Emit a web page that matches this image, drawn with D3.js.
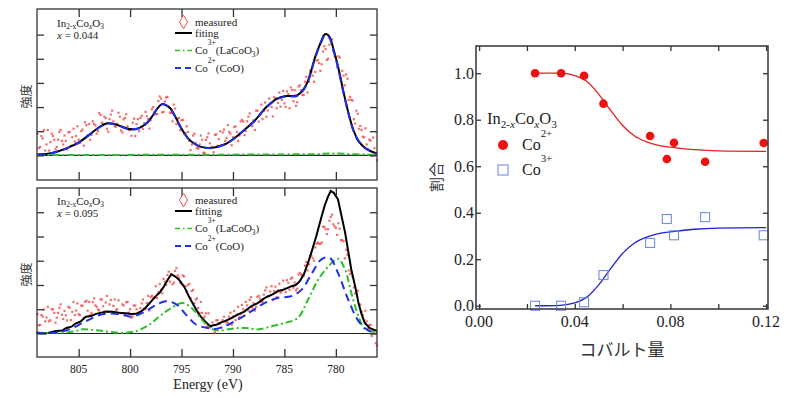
<!DOCTYPE html>
<html>
<head>
<meta charset="utf-8">
<script src="https://cdn.jsdelivr.net/npm/d3@7"></script>
</head>
<body style="margin:0;background:#fff">
<svg id="chart" width="788" height="398"></svg>
<script>
// ---- measured spectra (start energy, step, intensities) ----
var measStep = 0.25;
var measStartA = 809, measStartB = 808.875;
var measTop = [0.9,0.35,0.7,0.2,1.05,0.55,0.8,0.25,0.65,1.05,0.45,0.6,0.95,0.4,1.1,0.8,0.65,1.0,0.4,1.25,
  1.3,0.85,1.3,0.9,1.75,1.35,1.6,1.1,1.5,1.85,1.2,1.3,1.6,0.95,1.55,1.2,1.05,1.35,0.8,1.5,
  1.55,1.1,1.8,1.5,1.45,2.0,1.7,2.25,2.35,1.8,2.4,2.0,1.75,2.1,1.3,1.55,1.45,0.9,1.2,0.6,
  0.45,0.9,0.3,0.45,0.65,0.1,0.75,0.5,0.35,0.85,0.4,1.0,0.95,0.6,1.25,0.9,0.75,1.2,0.6,1.4,
  1.4,1.0,1.6,1.3,1.45,1.85,1.4,2.1,1.85,1.6,2.35,2.0,2.4,1.95,2.6,2.3,2.15,2.65,1.95,2.7,
  2.7,2.2,2.9,2.5,3.05,2.6,3.5,3.3,3.45,3.95,3.5,4.3,4.4,4.0,4.75,4.3,4.05,4.1,3.2,3.3,
  3.35,2.3,2.3,1.5,1.85,1.1,1.05,0.75,0.45,0.65,0.0,0.3,-0.2];
var measTop2 = [0.3,0.8,1.05,0.45,0.2,0.9,0.65,0.35,0.97,0.6,0.82,0.25,0.97,0.75,0.57,1.2,0.52,1.07,1.37,0.82,
  0.64,1.41,1.24,1.01,1.67,1.31,1.54,0.98,1.69,1.41,1.19,1.76,1.03,1.49,1.7,1.06,0.81,1.52,1.29,1.0,
  1.64,1.33,1.62,1.11,1.91,1.79,1.71,2.44,1.78,2.23,2.42,1.77,1.41,1.94,1.51,1.04,1.47,0.92,0.97,0.22,
  0.82,0.52,0.27,0.82,0.11,0.64,0.91,0.34,0.13,0.87,0.67,0.42,1.07,0.72,0.97,0.42,1.17,0.97,0.82,1.47,
  0.84,1.41,1.74,1.21,1.05,1.85,1.7,1.5,2.19,1.86,2.14,1.61,2.37,2.17,2.02,2.67,2.01,2.54,2.81,2.24,
  2.05,2.85,2.7,2.5,3.25,3.05,3.45,3.05,3.92,3.82,3.77,4.52,3.95,4.58,4.8,4.1,3.65,4.05,3.5,2.9,
  3.17,2.42,2.27,1.32,1.72,1.22,0.77,1.12,0.24,0.61,0.74,0.01];
var measBot = [0.8,0.35,0.7,0.5,1.1,0.55,1.0,0.45,0.85,1.2,0.6,0.75,1.1,0.55,1.3,0.95,0.8,1.15,0.65,1.35,
  1.3,0.85,1.45,1.1,0.95,1.4,0.9,1.55,1.2,0.9,1.4,1.0,0.85,1.2,0.75,1.3,1.0,0.7,1.15,0.85,
  1.05,1.4,1.0,1.55,1.5,1.45,1.95,1.7,1.8,2.25,2.0,2.55,2.45,2.1,2.7,2.3,2.05,2.35,1.75,2.05,
  1.75,1.25,1.45,0.85,0.85,0.7,0.3,0.25,0.45,0.05,0.55,0.4,0.55,0.5,0.45,0.85,0.7,0.55,1.1,0.8,
  1.0,1.3,0.95,1.5,1.25,1.1,1.55,1.3,1.6,1.9,1.55,1.95,1.75,1.5,2.05,1.75,1.85,2.2,1.8,2.3,
  2.1,1.85,2.5,2.4,2.8,2.6,3.2,3.1,3.55,3.75,3.7,4.4,4.3,4.3,4.8,4.5,4.35,4.55,3.85,3.8,
  3.45,2.6,2.55,1.9,1.65,1.2,0.9,0.55,0.5,0.35,-0.1,0.0,-0.5];
var measBot2 = [0.34,0.76,0.99,0.66,0.5,1.0,0.85,0.65,1.06,0.77,0.93,0.54,1.06,0.89,0.76,1.24,0.76,1.14,1.31,0.94,
  0.76,1.29,1.16,0.99,1.41,1.12,1.28,0.89,1.38,1.14,0.96,1.37,0.84,1.16,1.29,0.86,0.65,1.15,1.0,0.8,
  1.24,1.03,1.26,0.95,1.56,1.49,1.46,2.04,1.66,2.14,2.41,2.14,2.03,2.58,2.4,2.1,2.39,1.96,1.99,1.46,
  1.8,1.4,1.05,1.3,0.63,0.83,0.83,0.28,0.01,0.54,0.41,0.24,0.69,0.46,0.69,0.36,0.93,0.78,0.68,1.18,
  0.74,1.16,1.39,1.06,0.94,1.51,1.44,1.31,1.78,1.53,1.73,1.38,1.93,1.78,1.68,2.18,1.71,2.09,2.26,1.89,
  1.78,2.43,2.43,2.38,2.95,2.85,3.2,3.0,3.7,3.7,3.75,4.4,4.1,4.65,4.9,4.42,4.07,4.32,3.85,3.1,
  3.25,2.45,2.35,1.65,1.76,1.19,0.76,0.94,0.2,0.35,0.1,-0.4];

// ---- fitted curves [energy, intensity] ----
var fitTop = [[809,0.04],[808,0.07],[807.5,0.11],[806.2,0.29],[804.9,0.56],[803.6,0.98],[802.8,1.22],[802.2,1.33],
  [801.5,1.3],[801,1.22],[800.2,1.1],[799.7,1.08],[799.2,1.12],[798.4,1.33],[797.8,1.65],[797.4,1.91],[796.9,2.12],
  [796.5,2.08],[796.1,1.95],[795.6,1.6],[795.2,1.26],[794.7,0.9],[794.2,0.63],[793.6,0.45],[793.2,0.36],[792.4,0.31],
  [791.9,0.32],[791.2,0.4],[790.6,0.5],[789.9,0.7],[789.3,0.91],[788,1.39],[786.7,2.02],[785.7,2.35],[785,2.45],
  [784.4,2.46],[783.8,2.48],[783.3,2.65],[782.8,2.99],[782.4,3.5],[782,4.09],[781.5,4.65],[781.1,5.0],[780.9,5.02],
  [780.6,4.9],[780.3,4.51],[779.8,3.7],[779.3,2.71],[778.8,1.8],[778.3,1.05],[777.8,0.6],[777.3,0.36],[776.6,0.17],[776,0.08]];
var co2Top = [[809,0.03],[808,0.06],[807.5,0.1],[806.2,0.28],[804.9,0.55],[803.6,0.97],[802.8,1.21],[802.2,1.32],
  [801.5,1.29],[801,1.21],[800.2,1.09],[799.7,1.07],[799.2,1.11],[798.4,1.32],[797.8,1.64],[797.4,1.9],[796.9,2.11],
  [796.5,2.07],[796.1,1.94],[795.6,1.59],[795.2,1.25],[794.7,0.89],[794.2,0.62],[793.6,0.44],[793.2,0.35],[792.4,0.3],
  [791.9,0.31],[791.2,0.39],[790.6,0.49],[789.9,0.69],[789.3,0.9],[788,1.38],[786.7,2.0],[785.7,2.33],[785,2.43],
  [784.4,2.44],[783.8,2.46],[783.3,2.62],[782.8,2.96],[782.4,3.46],[782,4.05],[781.5,4.6],[781.1,4.95],[780.9,4.97],
  [780.6,4.85],[780.3,4.46],[779.8,3.65],[779.3,2.67],[778.8,1.77],[778.3,1.03],[777.8,0.58],[777.3,0.35],[776.6,0.16],[776,0.07]];
var co3Top = [[809,0.02],[800,0.02],[795,0.03],[790,0.03],[785,0.04],[782,0.05],[780.5,0.08],[779,0.06],[777,0.03],[776,0.02]];

var fitBot = [[809.1,0.03],[808.2,0.0],[807.2,0.1],[806.6,0.12],[806.2,0.23],[805.7,0.28],[805.3,0.41],[804.8,0.5],
  [804.3,0.69],[803.8,0.72],[803.3,0.81],[802.8,0.86],[802.3,0.91],[801.8,0.9],[801.4,0.88],[800.9,0.84],[800.4,0.83],
  [799.9,0.8],[799.4,0.81],[798.9,0.92],[798.5,1.06],[797.5,1.54],[797.1,1.7],[796.7,1.95],[796.3,2.25],[796,2.44],
  [795.6,2.35],[795.2,2.2],[794.7,1.9],[794.3,1.54],[793.8,1.15],[793.3,0.79],[792.9,0.58],[792.5,0.41],[792.2,0.3],
  [791.9,0.34],[791.6,0.36],[791.2,0.45],[790.8,0.51],[790.2,0.62],[789.5,0.79],[788.9,0.9],[788.2,1.13],[787.6,1.25],
  [786.9,1.47],[786.2,1.6],[785.6,1.75],[785,1.82],[784.3,1.95],[783.9,2.0],[783.5,2.16],[783.1,2.45],[782.7,2.92],
  [782.3,3.45],[781.9,4.02],[781.5,4.65],[781.1,5.26],[780.8,5.6],[780.5,5.88],[780.2,5.8],[779.8,5.54],[779.5,4.95],
  [779.1,4.16],[778.8,3.4],[778.5,2.64],[778.1,1.9],[777.8,1.26],[777.5,0.8],[777.2,0.44],[776.7,0.22],[776.2,0.14],[776,0.1]];
var co2Bot = [[809.1,0.03],[807.2,0.03],[805.9,0.17],[804.3,0.51],[802.7,0.79],[801.4,0.81],[800.5,0.75],[799.8,0.69],
  [798.5,0.92],[797.5,1.17],[796.5,1.33],[795.5,1.2],[794.6,0.79],[793.6,0.37],[792.5,0.23],[791.7,0.19],[790.8,0.3],
  [789.5,0.58],[788.2,0.92],[786.9,1.26],[785.6,1.47],[784.3,1.54],[783.3,1.82],[782.3,2.5],[781.4,3.06],[780.6,3.12],
  [779.8,2.5],[778.8,1.4],[777.8,0.51],[776.9,0.14],[776,0.03]];
var co3Bot = [[809.1,0.03],[806.6,0.03],[805.3,0.1],[804.6,0.17],[803.3,0.13],[802,0.07],[800.7,0.03],[799.4,0.1],
  [798.1,0.37],[797.2,0.69],[796.2,0.99],[794.9,1.26],[793.9,1.0],[792.9,0.51],[792.2,0.22],[791.4,0.12],[790.1,0.2],
  [788.8,0.23],[787.5,0.17],[786.2,0.3],[784.9,0.44],[783.7,0.64],[782.7,1.4],[781.7,2.23],[780.7,2.78],[779.8,3.08],
  [779.1,2.64],[778.5,1.68],[777.8,0.71],[777.2,0.2],[776,0.05]];

// ---- Co ratio vs cobalt content ----
var cobalt = [0.0234,0.0343,0.0439,0.052,0.0715,0.0785,0.0815,0.0945,0.119];
var ratioCo2 = [1.0,1.0,0.989,0.869,0.73,0.631,0.701,0.619,0.70];
var ratioCo3 = [0.0,0.0,0.015,0.132,0.27,0.373,0.303,0.381,0.303];
var curveX = [0.0234,0.034,0.040,0.045,0.050,0.055,0.060,0.065,0.070,0.075,0.080,0.090,0.100,0.120];
var curveCo2 = [1.0,1.0,0.99,0.965,0.91,0.84,0.775,0.73,0.705,0.69,0.682,0.671,0.666,0.664];
var curveCo3 = [0.0,0.002,0.012,0.037,0.09,0.16,0.225,0.27,0.295,0.31,0.318,0.329,0.334,0.336];

var energyTicks = [805,800,795,790,785,780];
var ratioTicks = [0,0.2,0.4,0.6,0.8,1.0];
var cobaltTicks = [0,0.02,0.04,0.06,0.08,0.10,0.12];
var cobaltLabels = [0,0.04,0.08,0.12];

var svg = d3.select('#chart');
var frameColor = '#333';
var SERIF = '"Liberation Serif"';
var JP = '"Noto Sans CJK JP"';

// text built from tspans; anchor handled by measuring, not text-anchor
function rich(g, x, y, size, parts, opts) {
  opts = opts || {};
  var t = g.append('text').attr('x', x).attr('y', y)
    .style('font-family', opts.fam || SERIF).style('font-size', size + 'px').attr('fill', opts.fill || '#222');
  var shift = 0;
  parts.forEach(function(p) {
    var s = p[1] || '';
    var target = s.indexOf('sub') >= 0 ? (opts.sub || size * 0.25) : s.indexOf('sup') >= 0 ? -(opts.sup || size * 0.75) : 0;
    var ts = t.append('tspan').text(p[0]).attr('dy', target - shift);
    if (target !== 0) ts.style('font-size', (size * 0.68) + 'px');
    if (s.indexOf('i') === 0) ts.style('font-style', 'italic');
    shift = target;
  });
  var w = t.node().getComputedTextLength();
  if (opts.anchor === 'middle') t.attr('x', x - w / 2);
  if (opts.anchor === 'end') t.attr('x', x - w);
  return t;
}

var xE = d3.scaleLinear().domain([809.05, 776.0]).range([37, 377]);
var panels = [
  {y: d3.scaleLinear().domain([-1.02, 6.06]).range([180, 9]), meas: [measTop, measTop2], fit: fitTop, co3: co3Top, co2: co2Top,
   x: '0.044', fitLabel: 'fiting', top: 9, bottom: 180, legY: 22},
  {y: d3.scaleLinear().domain([-0.97, 6.0]).range([357, 188]), meas: [measBot, measBot2], fit: fitBot, co3: co3Bot, co2: co2Bot,
   x: '0.095', fitLabel: 'fitting', top: 188, bottom: 357, legY: 200}
];

panels.forEach(function(p, k) {
  var g = svg.append('g');
  var y = p.y;

  // zero line
  g.append('line').attr('x1', 37).attr('x2', 377).attr('y1', y(0)).attr('y2', y(0))
    .attr('stroke', '#222').attr('stroke-width', 1.2);

  // measured points
  p.meas.forEach(function(arr, j) {
    var start = j === 0 ? measStartA : measStartB;
    g.selectAll(null).data(arr).enter().append('rect')
      .attr('x', function(d, i) { return xE(start - i * measStep) - 1.1; })
      .attr('y', function(d) { return y(d) - 1.1; })
      .attr('width', 2.2).attr('height', 2.2)
      .attr('fill', '#f04a48').attr('opacity', 0.8);
  });

  var line = d3.line().x(function(d) { return xE(d[0]); }).y(function(d) { return y(d[1]); })
    .curve(k === 0 ? d3.curveCatmullRom : d3.curveLinear);
  var smooth = d3.line().x(function(d) { return xE(d[0]); }).y(function(d) { return y(d[1]); })
    .curve(d3.curveCatmullRom);

  g.append('path').attr('d', line(p.fit)).attr('fill', 'none').attr('stroke', '#000').attr('stroke-width', 2);
  g.append('path').attr('d', smooth(p.co3)).attr('fill', 'none').attr('stroke', '#2bbf2b')
    .attr('stroke-width', 2).attr('stroke-dasharray', '7,3,2,3');
  g.append('path').attr('d', smooth(p.co2)).attr('fill', 'none').attr('stroke', '#1f2fe8')
    .attr('stroke-width', 2).attr('stroke-dasharray', '8,5');

  // frame and ticks
  g.append('rect').attr('x', 37).attr('y', p.top).attr('width', 340).attr('height', p.bottom - p.top)
    .attr('fill', 'none').attr('stroke', frameColor).attr('stroke-width', 1.3);
  var yTicks = [0, 1, 2, 3, 4, 5];
  g.append('g').attr('transform', 'translate(37,0)')
    .call(d3.axisLeft(y).tickValues(yTicks).tickSize(-7).tickFormat(''));
  g.append('g').attr('transform', 'translate(377,0)')
    .call(d3.axisRight(y).tickValues(yTicks).tickSize(-7).tickFormat(''));
  g.append('g').attr('transform', 'translate(0,' + p.top + ')')
    .call(d3.axisTop(xE).tickValues(energyTicks).tickSize(-8).tickFormat(''));
  g.append('g').attr('transform', 'translate(0,' + p.bottom + ')')
    .call(d3.axisBottom(xE).tickValues(energyTicks).tickSize(-8).tickFormat(''));
  g.selectAll('.domain').remove();
  g.selectAll('.tick text').remove();
  g.selectAll('.tick line').attr('stroke', frameColor).attr('stroke-width', 1.3);

  if (k === 1) {
    energyTicks.forEach(function(e) {
      rich(svg, xE(e), p.bottom + 16, 11.5, [[String(e)]], {anchor: 'middle'});
    });
  }

  // sample label
  var ly = p.legY;
  rich(g, 57, ly + 5, 11, [['In'], ['2-x', 'sub'], ['Co'], ['x', 'isub'], ['O'], ['3', 'sub']], {sub: 2});
  rich(g, 57, ly + 17, 11, [['x', 'i'], [' = ' + p.x]]);

  // legend
  g.append('path').attr('d', d3.symbol().type(d3.symbolDiamond).size(55)())
    .attr('transform', 'translate(183.5,' + ly + ')').attr('fill', 'none').attr('stroke', '#f05050').attr('stroke-width', 1);
  rich(g, 195, ly + 4, 11, [['measured']]);
  g.append('line').attr('x1', 175).attr('x2', 192).attr('y1', ly + 11).attr('y2', ly + 11)
    .attr('stroke', '#000').attr('stroke-width', 2);
  rich(g, 195, ly + 15, 11, [[p.fitLabel]]);
  g.append('line').attr('x1', 175).attr('x2', 192).attr('y1', ly + 28.5).attr('y2', ly + 28.5)
    .attr('stroke', '#2bbf2b').attr('stroke-width', 1.6).attr('stroke-dasharray', '5,3,1.5,3');
  rich(g, 195, ly + 32, 11, [['Co'], ['3+', 'sup'], ['(LaCoO'], ['3', 'sub'], [')']], {sup: 9.5});
  g.append('line').attr('x1', 175).attr('x2', 192).attr('y1', ly + 46).attr('y2', ly + 46)
    .attr('stroke', '#1f2fe8').attr('stroke-width', 1.8).attr('stroke-dasharray', '6,4');
  rich(g, 195, ly + 50, 11, [['Co'], ['2+', 'sup'], ['(CoO)']], {sup: 9.5});

  // y label
  var yl = svg.append('g').attr('transform', 'translate(31,' + ((p.top + p.bottom) / 2 + 2) + ') rotate(-90)');
  rich(yl, 0, 0, 12, [['強度']], {fam: JP, fill: '#333', anchor: 'middle'});
});

rich(svg, 208, 389, 14, [['Energy (eV)']], {anchor: 'middle'});

// ---- right panel ----
var xR = d3.scaleLinear().domain([-0.0013, 0.1208]).range([476, 768]);
var yR = d3.scaleLinear().domain([-0.014, 1.117]).range([309, 46]);
var gR = svg.append('g');

var ratioLine = d3.line().x(function(d) { return xR(d[0]); }).y(function(d) { return yR(d[1]); }).curve(d3.curveMonotoneX);
gR.append('path').attr('d', ratioLine(d3.zip(curveX, curveCo2))).attr('fill', 'none').attr('stroke', '#e82020').attr('stroke-width', 1.3);
gR.append('path').attr('d', ratioLine(d3.zip(curveX, curveCo3))).attr('fill', 'none').attr('stroke', '#2020d0').attr('stroke-width', 1.3);

gR.selectAll(null).data(d3.zip(cobalt, ratioCo2)).enter().append('circle')
  .attr('cx', function(d) { return xR(d[0]); }).attr('cy', function(d) { return yR(d[1]); })
  .attr('r', 4.3).attr('fill', '#ee1111');
gR.selectAll(null).data(d3.zip(cobalt, ratioCo3)).enter().append('rect')
  .attr('x', function(d) { return xR(d[0]) - 4.5; }).attr('y', function(d) { return yR(d[1]) - 4.5; })
  .attr('width', 9).attr('height', 9).attr('fill', 'none').attr('stroke', '#6f8fe6').attr('stroke-width', 1.1);

gR.append('rect').attr('x', 476).attr('y', 46).attr('width', 292).attr('height', 263)
  .attr('fill', 'none').attr('stroke', frameColor).attr('stroke-width', 1.5);
gR.append('g').attr('transform', 'translate(476,0)')
  .call(d3.axisLeft(yR).tickValues(ratioTicks).tickSize(-5).tickFormat(''));
gR.append('g').attr('transform', 'translate(768,0)')
  .call(d3.axisRight(yR).tickValues(ratioTicks).tickSize(-5).tickFormat(''));
gR.append('g').attr('transform', 'translate(0,46)')
  .call(d3.axisTop(xR).tickValues(cobaltTicks).tickSize(-5).tickFormat(''));
gR.append('g').attr('transform', 'translate(0,309)')
  .call(d3.axisBottom(xR).tickValues(cobaltTicks).tickSize(-5).tickFormat(''));
gR.selectAll('.domain').remove();
gR.selectAll('.tick text').remove();
gR.selectAll('.tick line').attr('stroke', frameColor).attr('stroke-width', 1.3);

ratioTicks.forEach(function(v) {
  rich(gR, 474, yR(v) + 5.5, 16, [[d3.format('.1f')(v)]], {anchor: 'end'});
});
cobaltLabels.forEach(function(v) {
  rich(gR, xR(v), 327, 16, [[d3.format('.2f')(v)]], {anchor: 'middle'});
});

// legend
rich(gR, 487, 124, 16.5, [['In'], ['2-', 'sub'], ['x', 'isub'], ['Co'], ['x', 'isub'], ['O'], ['3', 'sub']]);
gR.append('circle').attr('cx', 503).attr('cy', 145).attr('r', 5).attr('fill', '#ee1111');
rich(gR, 522, 150, 16, [['Co'], ['2+', 'sup']], {sup: 13});
gR.append('rect').attr('x', 498).attr('y', 165).attr('width', 10).attr('height', 10)
  .attr('fill', 'none').attr('stroke', '#6f8fe6').attr('stroke-width', 1.1);
rich(gR, 522, 175, 16, [['Co'], ['3+', 'sup']], {sup: 13});

rich(svg, 622, 356, 17, [['コバルト量']], {fam: JP, fill: '#333', anchor: 'middle'});
var rl = svg.append('g').attr('transform', 'translate(442,177) rotate(-90)');
rich(rl, 0, 0, 15, [['割合']], {fam: JP, fill: '#333', anchor: 'middle'});
</script>
</body>
</html>
